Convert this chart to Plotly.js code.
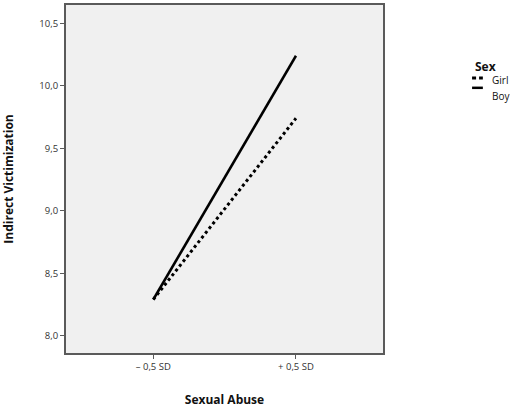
<!DOCTYPE html>
<html>
<head>
<meta charset="utf-8">
<script src="https://cdn.plot.ly/plotly-3.0.1.min.js"></script>
<style>
  html, body { margin: 0; padding: 0; background: #fff; }
  #chart { width: 510px; height: 408px; }
</style>
</head>
<body>
<div id="chart"></div>
<script>
// --- values ---
const levels = ['\u2013 0,5 SD', '+ 0,5 SD'];
const girl = [8.29, 9.74];
const boy = [8.29, 10.24];
const groupNames = ['Girl', 'Boy'];
const yTicks = [8.0, 8.5, 9.0, 9.5, 10.0, 10.5];

const FONT = '"Open Sans", "DejaVu Sans", sans-serif';

const traces = [
    {
        x: levels, y: girl, name: groupNames[0],
        type: 'scatter', mode: 'lines',
        line: { color: '#000', width: 3, dash: 'dot' },
        showlegend: false
    },
    {
        x: levels, y: boy, name: groupNames[1],
        type: 'scatter', mode: 'lines',
        line: { color: '#000', width: 2.5 },
        showlegend: false
    }
];

// legend drawn by hand so the short SPSS-style keys fit
const layout = {
    width: 510,
    height: 408,
    margin: { l: 66, r: 127, t: 5, b: 55 },
    paper_bgcolor: '#fff',
    plot_bgcolor: '#f0f0f0',
    separators: ',.',
    font: { family: FONT, color: '#222' },
    xaxis: {
        type: 'category',
        range: [-0.612, 1.61],
        showline: true, mirror: true, linecolor: '#5a5a5a', linewidth: 2,
        showgrid: false, zeroline: false,
        ticks: 'outside', ticklen: 4, tickcolor: '#5a5a5a',
        tickfont: { size: 9.5, color: '#333' },
        title: { text: '<b>Sexual Abuse</b>', font: { size: 12, color: '#111' }, standoff: 28 }
    },
    yaxis: {
        range: [7.862, 10.646],
        tickvals: yTicks,
        tickformat: '.1f',
        showline: true, mirror: true, linecolor: '#5a5a5a', linewidth: 2,
        showgrid: false, zeroline: false,
        ticks: 'outside', ticklen: 4, tickcolor: '#5a5a5a',
        tickfont: { size: 9.5, color: '#333' },
        title: { text: '<b>Indirect Victimization</b>', font: { size: 12, color: '#111' }, standoff: 24 }
    },
    annotations: [
        { text: '<b>Sex</b>', xref: 'paper', yref: 'paper', x: 1.322, y: 0.822,
          xanchor: 'center', yanchor: 'middle', showarrow: false,
          font: { size: 12, color: '#111', family: FONT } },
        { text: groupNames[0], xref: 'paper', yref: 'paper', x: 1.338, y: 0.784,
          xanchor: 'left', yanchor: 'middle', showarrow: false,
          font: { size: 10, color: '#111', family: FONT } },
        { text: groupNames[1], xref: 'paper', yref: 'paper', x: 1.338, y: 0.739,
          xanchor: 'left', yanchor: 'middle', showarrow: false,
          font: { size: 10, color: '#111', family: FONT } }
    ],
    shapes: [
        { type: 'line', xref: 'paper', yref: 'paper', x0: 1.281, x1: 1.315, y0: 0.79, y1: 0.79,
          line: { color: '#000', width: 3, dash: '4px,3px' } },
        { type: 'line', xref: 'paper', yref: 'paper', x0: 1.281, x1: 1.315, y0: 0.762, y1: 0.762,
          line: { color: '#000', width: 2.5 } }
    ]
};

Plotly.newPlot('chart', traces, layout, { displayModeBar: false, responsive: false });
</script>
</body>
</html>
